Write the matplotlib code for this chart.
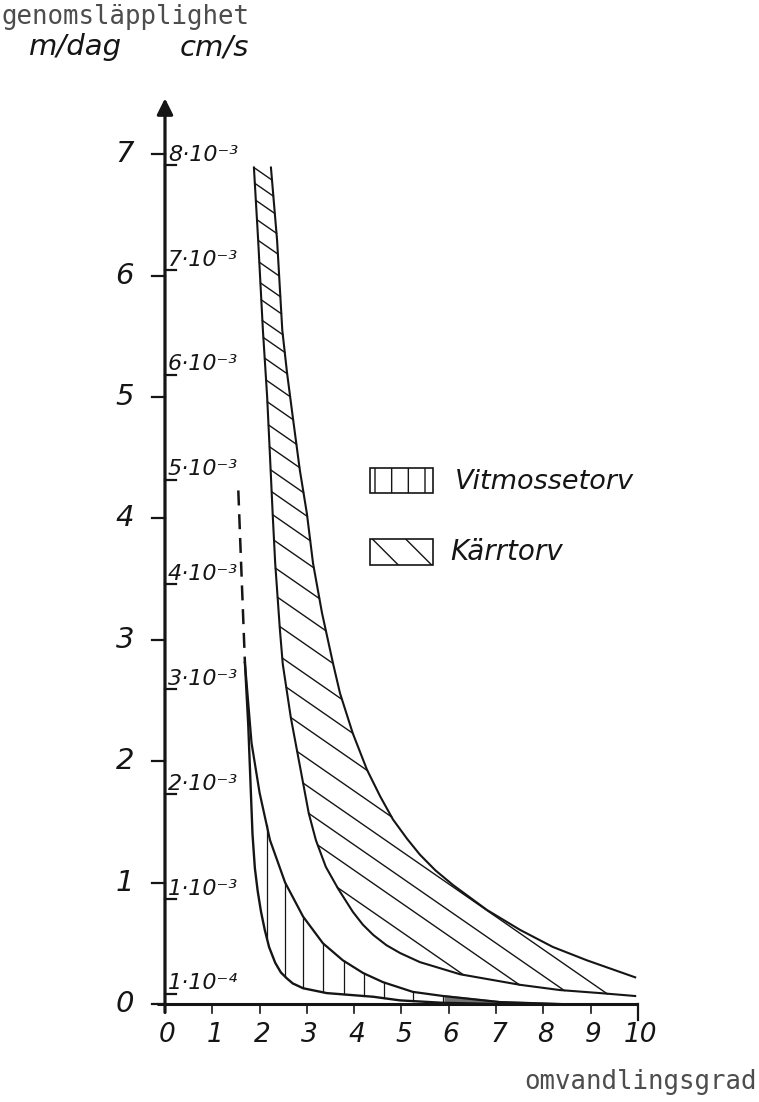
import matplotlib.pyplot as plt
import numpy as np
from matplotlib.patches import Rectangle

# omvandlingsgrad (x) mot genomsläpplighet i m/dag (y)
karr_lo_x = [1.88, 1.97, 2.07, 2.16, 2.22, 2.28, 2.33, 2.43, 2.49, 2.66, 2.79, 2.92,
             3.04, 3.19, 3.40, 3.66, 3.97, 4.18, 4.40, 4.68, 4.97, 5.39, 6.24, 7.51,
             8.35, 9.20, 9.94]
karr_lo_y = [6.89, 6.29, 5.55, 5.00, 4.51, 4.01, 3.63, 3.08, 2.80, 2.36, 2.09, 1.82,
             1.57, 1.35, 1.13, 0.95, 0.76, 0.655, 0.57, 0.485, 0.42, 0.345, 0.245, 0.158,
             0.115, 0.09, 0.066]
karr_hi_x = [2.24, 2.37, 2.48, 2.58, 2.69, 2.85, 3.00, 3.13, 3.32, 3.55, 3.70, 3.97,
             4.27, 4.55, 4.82, 5.12, 5.39, 5.72, 6.09, 6.81, 7.51, 8.20, 8.92, 9.94]
karr_hi_y = [6.89, 6.29, 5.55, 5.20, 4.87, 4.40, 4.04, 3.63, 3.22, 2.81, 2.56, 2.23,
             1.93, 1.71, 1.52, 1.36, 1.23, 1.10, 0.98, 0.774, 0.61, 0.47, 0.36, 0.22]

vit_lo_x = [1.69, 1.76, 1.81, 1.85, 1.90, 1.96, 2.03, 2.11, 2.20, 2.33, 2.45, 2.58,
            2.70, 2.92, 3.42, 4.40, 4.97, 5.88, 7.00]
vit_lo_y = [2.81, 2.30, 1.80, 1.40, 1.12, 0.93, 0.76, 0.61, 0.47, 0.34, 0.26, 0.21,
            0.17, 0.13, 0.09, 0.06, 0.03, 0.01, 0.0]
vit_hi_x = [1.69, 1.83, 2.00, 2.22, 2.54, 2.92, 3.34, 3.76, 4.19, 4.61, 5.24, 5.88, 7.08, 8.35]
vit_hi_y = [2.81, 2.15, 1.74, 1.35, 1.00, 0.72, 0.50, 0.36, 0.255, 0.18, 0.10, 0.066, 0.016, 0.0]

# streckad förlängning uppåt
streck_x = [1.55, 1.69]
streck_y = [4.23, 2.81]

# skraffering
vit_skraff_x = [2.15, 2.54, 2.92, 3.34, 3.78, 4.20, 4.63, 5.24, 5.88]
karr_skraff_y = [6.89, 6.76, 6.62, 6.46, 6.29, 6.11, 5.94, 5.80, 5.63, 5.49, 5.32, 5.14,
                 4.96, 4.77, 4.59, 4.40, 4.22, 4.03, 3.82, 3.59, 3.35, 3.11, 2.85, 2.61,
                 2.36, 2.08, 1.82, 1.57, 1.31, 0.96]
karr_lutning = -0.27

x_ticks = list(range(0, 11))
m_dag_ticks = list(range(0, 8))
cm_s_varden = [1e-4, 1e-3, 2e-3, 3e-3, 4e-3, 5e-3, 6e-3, 7e-3, 8e-3]
cm_s_etiketter = ['1·10⁻⁴', '1·10⁻³', '2·10⁻³', '3·10⁻³', '4·10⁻³',
                  '5·10⁻³', '6·10⁻³', '7·10⁻³', '8·10⁻³']

ink = '#151515'
hand = dict(family=['DejaVu Sans'], style='italic', color=ink)

fig = plt.figure(figsize=(7.59, 11.02), dpi=100)
ax = fig.add_axes([0, 0, 1, 1])
ax.set_xlim(-3.488, 12.558)
ax.set_ylim(-0.807, 8.270)
ax.axis('off')

# axlar
ax.plot([-0.17, 10], [0, 0], color=ink, lw=2.2, solid_capstyle='butt')
ax.plot([10, 10], [0, -0.13], color=ink, lw=1.6)
ax.annotate('', xy=(0, 7.46), xytext=(0, -0.07),
            arrowprops=dict(arrowstyle='-|>', lw=2.3, color=ink,
                            mutation_scale=24, shrinkA=0, shrinkB=0))
for t in x_ticks[1:-1]:
    ax.plot([t, t], [0, -0.07], color=ink, lw=1.2)

for t in x_ticks:
    ax.text(t + 0.05, -0.255, str(t), ha='center', va='center', fontsize=19, **hand)

for t in m_dag_ticks:
    ax.plot([-0.28, 0], [t, t], color=ink, lw=1.6)
    ax.text(-0.85, t, str(t), ha='center', va='center', fontsize=21, **hand)

for v, lab in zip(cm_s_varden, cm_s_etiketter):
    y = v * 864  # cm/s -> m/dag
    ax.plot([0, 0.24], [y, y], color=ink, lw=1.6)
    ax.text(0.06, y + 0.035, lab, ha='left', va='baseline', fontsize=16, **hand)

# Kärrtorv
ax.plot(karr_lo_x, karr_lo_y, color=ink, lw=1.5)
ax.plot(karr_hi_x, karr_hi_y, color=ink, lw=1.5)
lo_x_r, lo_y_r = np.array(karr_lo_x)[::-1], np.array(karr_lo_y)[::-1]
for y0 in karr_skraff_y:
    x0 = np.interp(y0, lo_y_r, lo_x_r)
    xg = np.arange(x0, 10, 0.002)
    yl = y0 + karr_lutning * (xg - x0)
    inne = (yl >= np.interp(xg, karr_lo_x, karr_lo_y) - 1e-3) & \
           (yl <= np.interp(xg, karr_hi_x, karr_hi_y) + 1e-3)
    ut = np.argmax(~inne[1:]) + 1 if (~inne[1:]).any() else len(xg) - 1
    ax.plot([x0, xg[ut]], [y0, yl[ut]], color=ink, lw=1.0)

# Vitmossetorv
ax.plot(vit_lo_x, vit_lo_y, color=ink, lw=1.7)
ax.plot(vit_hi_x, vit_hi_y, color=ink, lw=1.6)
ax.plot(streck_x, streck_y, color=ink, lw=1.8, linestyle=(0, (6, 3.5)))
for xv in vit_skraff_x:
    ax.plot([xv, xv], [np.interp(xv, vit_lo_x, vit_lo_y), np.interp(xv, vit_hi_x, vit_hi_y)],
            color=ink, lw=0.9)
xs = np.linspace(5.9, 8.35, 60)
ax.fill_between(xs, np.interp(xs, vit_lo_x, vit_lo_y) - 0.01,
                np.interp(xs, vit_hi_x, vit_hi_y) + 0.012, color='0.45', lw=0)

# teckenförklaring
ax.add_patch(Rectangle((4.33, 4.21), 1.33, 0.205, fill=False, hatch='|',
                       edgecolor=ink, lw=1.2))
ax.add_patch(Rectangle((4.33, 3.616), 1.33, 0.214, fill=False, hatch='\\',
                       edgecolor=ink, lw=1.2))
ax.text(6.13, 4.30, 'Vitmossetorv', ha='left', va='center', fontsize=19.5, **hand)
ax.text(6.03, 3.72, 'Kärrtorv', ha='left', va='center', fontsize=20, **hand)

# rubriker
ax.text(-3.45, 8.13, 'genomsläpplighet', ha='left', va='center', fontsize=18.5,
        family='DejaVu Sans Mono', color='0.3')
ax.text(12.52, -0.64, 'omvandlingsgrad', ha='right', va='center', fontsize=18.5,
        family='DejaVu Sans Mono', color='0.3')
ax.text(-1.9, 7.88, 'm/dag', ha='center', va='center', fontsize=21, **hand)
ax.text(1.05, 7.88, 'cm/s', ha='center', va='center', fontsize=21, **hand)

fig.savefig('out.png', dpi=100, facecolor='white')
